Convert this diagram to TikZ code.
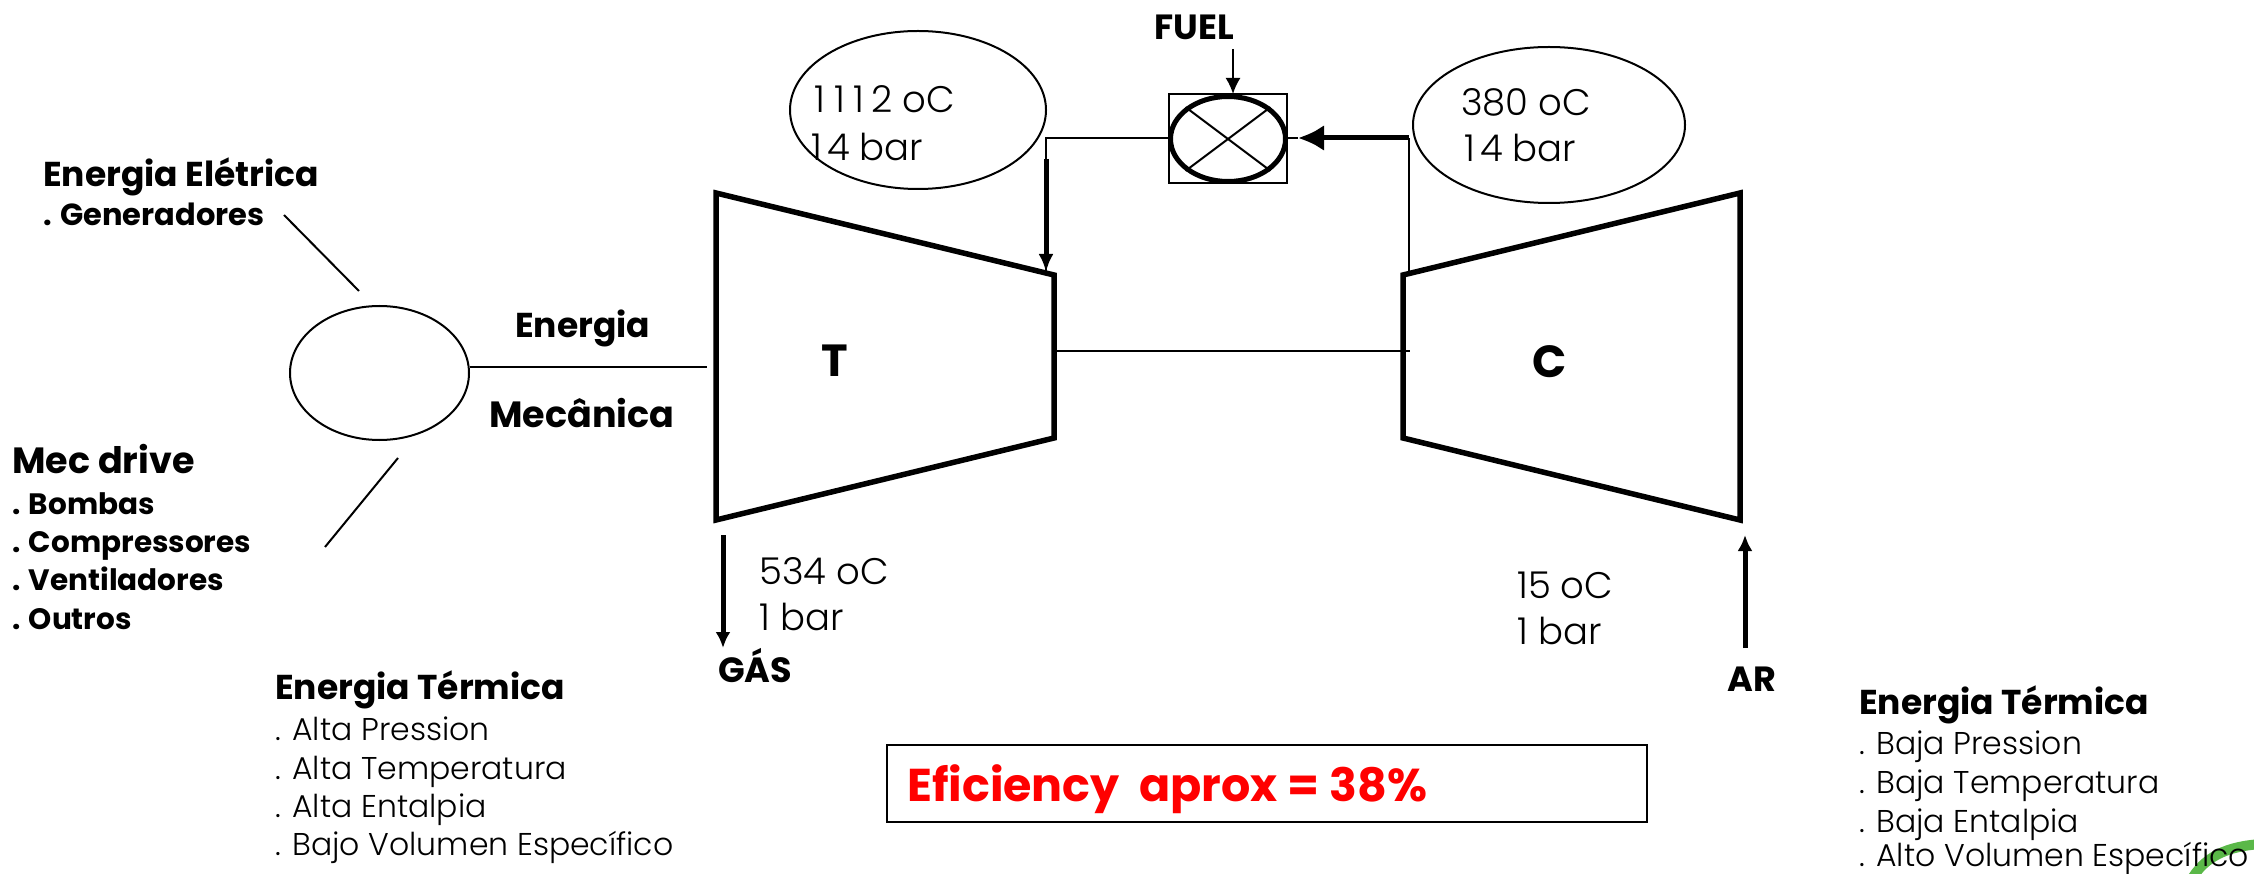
\documentclass[tikz,border=0pt]{standalone}
\usepackage{fontspec}
\setmainfont{Poppins}
\newfontfamily\lightf{Poppins Light}
\usetikzlibrary{arrows.meta,shapes.geometric}
\definecolor{arcgreen}{RGB}{90,184,72}
\tikzset{
 thinln/.style={draw=black,line width=2pt},
 thickln/.style={draw=black,line width=5.5pt},
 tipa/.style={-{Latex[length=18pt,width=15pt]}},
 txt/.style={anchor=west,inner sep=0pt,text height=7.2pt,text depth=2.2pt},
 bold/.style={font=\fontsize{34.5pt}{38pt}\selectfont\bfseries,txt,yshift=-10pt},
 boldb/.style={font=\fontsize{36.5pt}{40pt}\selectfont\bfseries,txt,yshift=-10pt},
 boldlist/.style={font=\fontsize{30.5pt}{34pt}\selectfont\bfseries,txt,yshift=-8.5pt},
 boldlistb/.style={font=\fontsize{29.5pt}{34pt}\selectfont\bfseries,txt,yshift=-8.5pt},
 lightlist/.style={font=\fontsize{31.5pt}{36pt}\selectfont\lightf,txt,yshift=-8.5pt},
 big/.style={font=\fontsize{37pt}{40pt}\selectfont\lightf,txt,yshift=-10.5pt},
 capt/.style={font=\fontsize{35pt}{40pt}\selectfont\bfseries,inner sep=0pt},
 lett/.style={font=\fontsize{45pt}{50pt}\selectfont\bfseries},
}
\begin{document}
\begin{tikzpicture}[x=1pt,y=-1pt]
\useasboundingbox (0,0) rectangle (2254,874);
\draw[line width=10pt,draw=arcgreen,line cap=round] (2190,882) .. controls (2204,856) and (2228,846) .. (2262,844);
% turbines
\coordinate (ta) at (716,193); \coordinate (tb) at (1054,275); \coordinate (tc) at (1054,438); \coordinate (td) at (716,520);
\coordinate (ca) at (1740,193); \coordinate (cb) at (1403,275); \coordinate (cc) at (1403,438); \coordinate (cd) at (1740,520);
\draw[thickln,line join=miter] (ta)--(tb)--(tc)--(td)--cycle;
\draw[thickln,line join=miter] (ca)--(cb)--(cc)--(cd)--cycle;
\node[lett] (tl) at (835,361) {T};
\node[lett] (cl) at (1550,362) {C};
% ellipses
\node[draw,line width=2pt,ellipse,minimum width=256pt,minimum height=158pt,inner sep=0pt] (el) at (918,110) {};
\node[draw,line width=2pt,ellipse,minimum width=272pt,minimum height=156pt,inner sep=0pt] (er) at (1549,125) {};
\node[big] (t1) at (814,100) {1\kern9pt 1\kern9pt 1\kern7pt 2 oC};
\node[big] (t2) at (811,148) {1\kern5pt 4 bar};
\node[big] (t3) at (1461,103) {380 oC};
\node[big] (t4) at (1464,149) {1\kern5pt 4 bar};
% combustor
\node[draw,line width=2pt,minimum width=118pt,minimum height=89pt,inner sep=0pt] (sq) at (1227.5,139) {};
\node[draw,line width=5pt,ellipse,minimum width=115pt,minimum height=85pt,inner sep=0pt] (ci) at (1228,139) {};
\draw[thinln] (ci.north west) -- (ci.south east);
\draw[thinln] (ci.north east) -- (ci.south west);
\node[capt] (fu) at (1194,27) {FUEL};
\coordinate (fs) at (1233,49); \coordinate (fe) at (1233,94);
\draw[thinln,-{Latex[length=16pt,width=15pt]}] (fs) -- (fe);
% connections
\coordinate (lk) at (1046,138); \coordinate (lt) at (1046,272); \coordinate (ls) at (1046,159);
\draw[thinln] (sq.west |- lk) -- (lk) -- (lt);
\draw[line width=5pt,tipa] (ls) -- (lt);
\coordinate (rk) at (1409,138); \coordinate (rb) at (1409,272); \coordinate (rt) at (1298,138);
\draw[thinln] (rb) -- (rk);
\draw[thinln] (sq.east |- rk) -- (rt);
\draw[line width=5pt,-{Latex[length=26pt,width=26pt]}] (rk) -- (rt);
% shaft
\coordinate (s1) at (1054,351); \coordinate (s2) at (1410,351);
\draw[thinln] (s1) -- (s2);
% gear
\node[draw,line width=2pt,ellipse,minimum width=179pt,minimum height=134pt,inner sep=0pt] (ge) at (379.5,373) {};
\coordinate (ms) at (707,367);
\draw[thinln] (ge.east |- ms) -- (ms);
\coordinate (a1) at (284,215); \coordinate (a2) at (359,291);
\draw[thinln] (a1) -- (a2);
\coordinate (b1) at (398,458); \coordinate (b2) at (325,547);
\draw[thinln] (b1) -- (b2);
% gas and air
\coordinate (g1) at (723,535); \coordinate (g2) at (723,648);
\draw[line width=5pt,-{Latex[length=16pt,width=15pt]}] (g1) -- (g2);
\coordinate (r1) at (1745,648); \coordinate (r2) at (1745,535);
\draw[line width=5pt,-{Latex[length=16pt,width=15pt]}] (r1) -- (r2);
\node[capt] (gl) at (755,666) {GÁS};
\node[capt] (al) at (1752,679) {AR};
\node[big] (t5) at (759,571) {534 oC};
\node[big] (t6) at (759,617) {1 bar};
\node[big] (t7) at (1517,585) {15 oC};
\node[big] (t8) at (1517,631) {1 bar};
% left texts
\node[bold] (n1) at (43,174) {Energia Elétrica};
\node[boldlist] (n2) at (43,215) {. Generadores};
\node[bold] (n3) at (515,325) {Energia};
\node[boldb] (n4) at (489,415) {Mecânica};
\node[boldb] (n5) at (12,461) {Mec drive};
\node[boldlistb] (n6) at (12,503) {. Bombas};
\node[boldlistb] (n7) at (12,541) {. Compressores};
\node[boldlistb] (n8) at (12,579) {. Ventiladores};
\node[boldlistb] (n9) at (12,618) {. Outros};
\node[bold] (m1) at (275,687) {Energia Térmica};
\node[lightlist] (m2) at (275,729) {. Alta Pression};
\node[lightlist] (m3) at (275,768) {. Alta Temperatura};
\node[lightlist] (m4) at (275,806) {. Alta Entalpia};
\node[lightlist] (m5) at (275,844) {. Bajo Volumen Específico};
\node[bold] (k1) at (1859,702) {Energia Térmica};
\node[lightlist] (k2) at (1859,743) {. Baja Pression};
\node[lightlist] (k3) at (1859,782) {. Baja Temperatura};
\node[lightlist] (k4) at (1859,821) {. Baja Entalpia};
\node[lightlist] (k5) at (1859,855) {. Alto Volumen Específico};
% efficiency
\node[draw,line width=2pt,minimum width=760pt,minimum height=77pt,inner sep=0pt] (bx) at (1267,783.5) {};
\node[font=\fontsize{46pt}{50pt}\selectfont\bfseries,text=red,txt,yshift=-13pt] (ef) at (907,786) {Eficiency\ \ aprox = 38\%};
\end{tikzpicture}
\end{document}
